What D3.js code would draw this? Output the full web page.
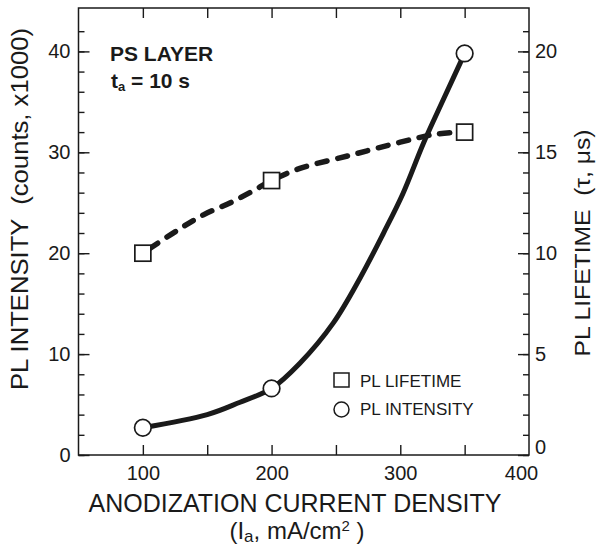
<!DOCTYPE html>
<html>
<head>
<meta charset="utf-8">
<script src="https://cdn.jsdelivr.net/npm/d3@7"></script>
<style>
  html, body { margin: 0; padding: 0; background: #fff; }
  svg { display: block; font-family: "Liberation Sans", Arial, Helvetica, sans-serif; }
</style>
</head>
<body>
<svg id="chart" width="600" height="547"></svg>
<script>
// ---- data ----
const currentDensity = [100, 200, 350];               // mA/cm2
const lifetimeValues = [10, 13.6, 16];                 // µs (right axis)
const intensityValues = [2.7, 6.6, 39.8];              // counts x1000 (left axis)

// guide curves
const lifetimeCurveX = [100, 126, 147, 168, 186, 200, 222, 261, 300, 328, 350];
const lifetimeCurveY = [10, 11.1, 11.9, 12.5, 13.1, 13.6, 14.2, 14.85, 15.5, 15.9, 16.0];
const intensityCurveX = [100, 150, 175, 200, 222, 248, 269, 287, 302, 318, 333, 350];
const intensityCurveY = [2.7, 4.0, 5.2, 6.6, 9.1, 13.1, 17.6, 22.0, 25.9, 30.9, 35.1, 39.8];

const xMajorTicks = [100, 200, 300, 400];
const xMinorTicks = [100, 150, 200, 250, 300, 350];
const yLeftMajor = [0, 10, 20, 30, 40];
const yLeftMinor = [0, 2, 4, 6, 8, 10, 12, 14, 16, 18, 20, 22, 24, 26, 28, 30, 32, 34, 36, 38, 40, 42];
const yRightMajor = [0, 5, 10, 15, 20];
const yRightMinor = [0,1,2,3,4,5,6,7,8,9,10,11,12,13,14,15,16,17,18,19,20,21];

// ---- layout ----
const L = 78.5, R = 529, T = 8, B = 455;
const ink = "#1a1a1a";
const svg = d3.select("#chart");

const x = d3.scaleLinear().domain([50, 400]).range([L, R]);
const yL = d3.scaleLinear().domain([0, 44.3]).range([B, T]);
const yR = d3.scaleLinear().domain([0, 22.15]).range([B, T]);

function styleAxis(g) {
  g.select(".domain").remove();
  g.selectAll("line").attr("stroke", ink).attr("stroke-width", 1.4);
  g.selectAll("text").attr("fill", ink).attr("font-size", 20)
    .attr("font-family", '"Liberation Sans", Arial, sans-serif');
}

// frame
svg.append("rect").attr("x", L).attr("y", T).attr("width", R - L).attr("height", B - T)
  .attr("fill", "none").attr("stroke", ink).attr("stroke-width", 1.5);

// bottom axis
svg.append("g").attr("transform", `translate(0,${B})`)
  .call(d3.axisBottom(x).tickValues(xMinorTicks).tickSize(-10).tickFormat(""))
  .call(styleAxis);
const bx = svg.append("g").attr("transform", `translate(0,${B})`)
  .call(d3.axisBottom(x).tickValues(xMajorTicks).tickSize(0).tickPadding(11).tickFormat(d3.format("d")))
  .call(styleAxis);
bx.selectAll(".tick").filter(d => d === 400).select("text").attr("dx", -8);
// top axis ticks
svg.append("g").attr("transform", `translate(0,${T})`)
  .call(d3.axisTop(x).tickValues(xMinorTicks).tickSize(-10).tickFormat(""))
  .call(styleAxis);

// left axis
svg.append("g").attr("transform", `translate(${L},0)`)
  .call(d3.axisLeft(yL).tickValues(yLeftMinor).tickSize(-6).tickFormat(""))
  .call(styleAxis);
svg.append("g").attr("transform", `translate(${L},0)`)
  .call(d3.axisLeft(yL).tickValues(yLeftMajor).tickSize(-11).tickPadding(8).tickFormat(d3.format("d")))
  .call(styleAxis);

// right axis
svg.append("g").attr("transform", `translate(${R},0)`)
  .call(d3.axisRight(yR).tickValues(yRightMinor).tickSize(-6).tickFormat(""))
  .call(styleAxis);
const ry = svg.append("g").attr("transform", `translate(${R},0)`)
  .call(d3.axisRight(yR).tickValues(yRightMajor).tickSize(-11).tickPadding(6).tickFormat(d3.format("d")))
  .call(styleAxis);
ry.selectAll(".tick").filter(d => d === 0).select("text").attr("y", -8);

// axis titles
svg.append("text").attr("x", 295).attr("y", 512).attr("text-anchor", "middle")
  .attr("font-size", 25).attr("fill", ink).text("ANODIZATION CURRENT DENSITY");
const xt2 = svg.append("text").attr("x", 297).attr("y", 539).attr("text-anchor", "middle")
  .attr("font-size", 24).attr("fill", ink);
xt2.append("tspan").text("(I");
xt2.append("tspan").attr("font-size", 17).attr("dy", 3).text("a");
xt2.append("tspan").attr("dy", -3).text(", mA/cm");
xt2.append("tspan").attr("font-size", 15).attr("dy", -8).text("2");
xt2.append("tspan").attr("dy", 8).text(" )");

svg.append("text").attr("transform", "translate(28,209) rotate(-90)").attr("text-anchor", "middle")
  .attr("font-size", 24).attr("fill", ink).attr("xml:space", "preserve")
  .attr("textLength", 362).attr("lengthAdjust", "spacingAndGlyphs")
  .text("PL INTENSITY  (counts, x1000)");
svg.append("text").attr("transform", "translate(590,243) rotate(-90)").attr("text-anchor", "middle")
  .attr("font-size", 22).attr("fill", ink).attr("xml:space", "preserve")
  .attr("textLength", 227).attr("lengthAdjust", "spacingAndGlyphs")
  .text("PL LIFETIME  (τ, μs)");

// annotation
svg.append("text").attr("x", 110).attr("y", 61).attr("font-size", 21).attr("font-weight", "bold")
  .attr("fill", ink).text("PS LAYER");
const ta = svg.append("text").attr("x", 111).attr("y", 88).attr("font-size", 21).attr("font-weight", "bold")
  .attr("fill", ink);
ta.append("tspan").text("t");
ta.append("tspan").attr("font-size", 13).attr("dy", 3).text("a");
ta.append("tspan").attr("dy", -3).text(" = 10 s");

// curves
const lifetimeLine = d3.line().x(d => x(d[0])).y(d => yR(d[1])).curve(d3.curveCatmullRom);
const intensityLine = d3.line().x(d => x(d[0])).y(d => yL(d[1])).curve(d3.curveCatmullRom);

svg.append("path").datum(d3.zip(lifetimeCurveX, lifetimeCurveY))
  .attr("d", lifetimeLine).attr("fill", "none").attr("stroke", ink)
  .attr("stroke-width", 5.5).attr("stroke-linecap", "round").attr("stroke-dasharray", "10,11")
  .attr("stroke-dashoffset", -8);
svg.append("path").datum(d3.zip(intensityCurveX, intensityCurveY))
  .attr("d", intensityLine).attr("fill", "none").attr("stroke", ink)
  .attr("stroke-width", 5).attr("stroke-linecap", "round");

// markers
const sq = 16;
svg.append("g").selectAll("rect").data(d3.zip(currentDensity, lifetimeValues)).join("rect")
  .attr("x", d => x(d[0]) - sq / 2).attr("y", d => yR(d[1]) - sq / 2)
  .attr("width", sq).attr("height", sq)
  .attr("fill", "#fff").attr("stroke", ink).attr("stroke-width", 1.7);
svg.append("g").selectAll("circle").data(d3.zip(currentDensity, intensityValues)).join("circle")
  .attr("cx", d => x(d[0])).attr("cy", d => yL(d[1])).attr("r", 8.3)
  .attr("fill", "#fff").attr("stroke", ink).attr("stroke-width", 1.7);

// legend
const lg = svg.append("g");
lg.append("rect").attr("x", 334).attr("y", 373).attr("width", 15).attr("height", 14)
  .attr("fill", "#fff").attr("stroke", ink).attr("stroke-width", 1.5);
lg.append("circle").attr("cx", 341.5).attr("cy", 409.5).attr("r", 7.5)
  .attr("fill", "#fff").attr("stroke", ink).attr("stroke-width", 1.5);
lg.append("text").attr("x", 360).attr("y", 387).attr("font-size", 17).attr("fill", ink).text("PL LIFETIME");
lg.append("text").attr("x", 360).attr("y", 415).attr("font-size", 17).attr("fill", ink).text("PL INTENSITY");
</script>
</body>
</html>
